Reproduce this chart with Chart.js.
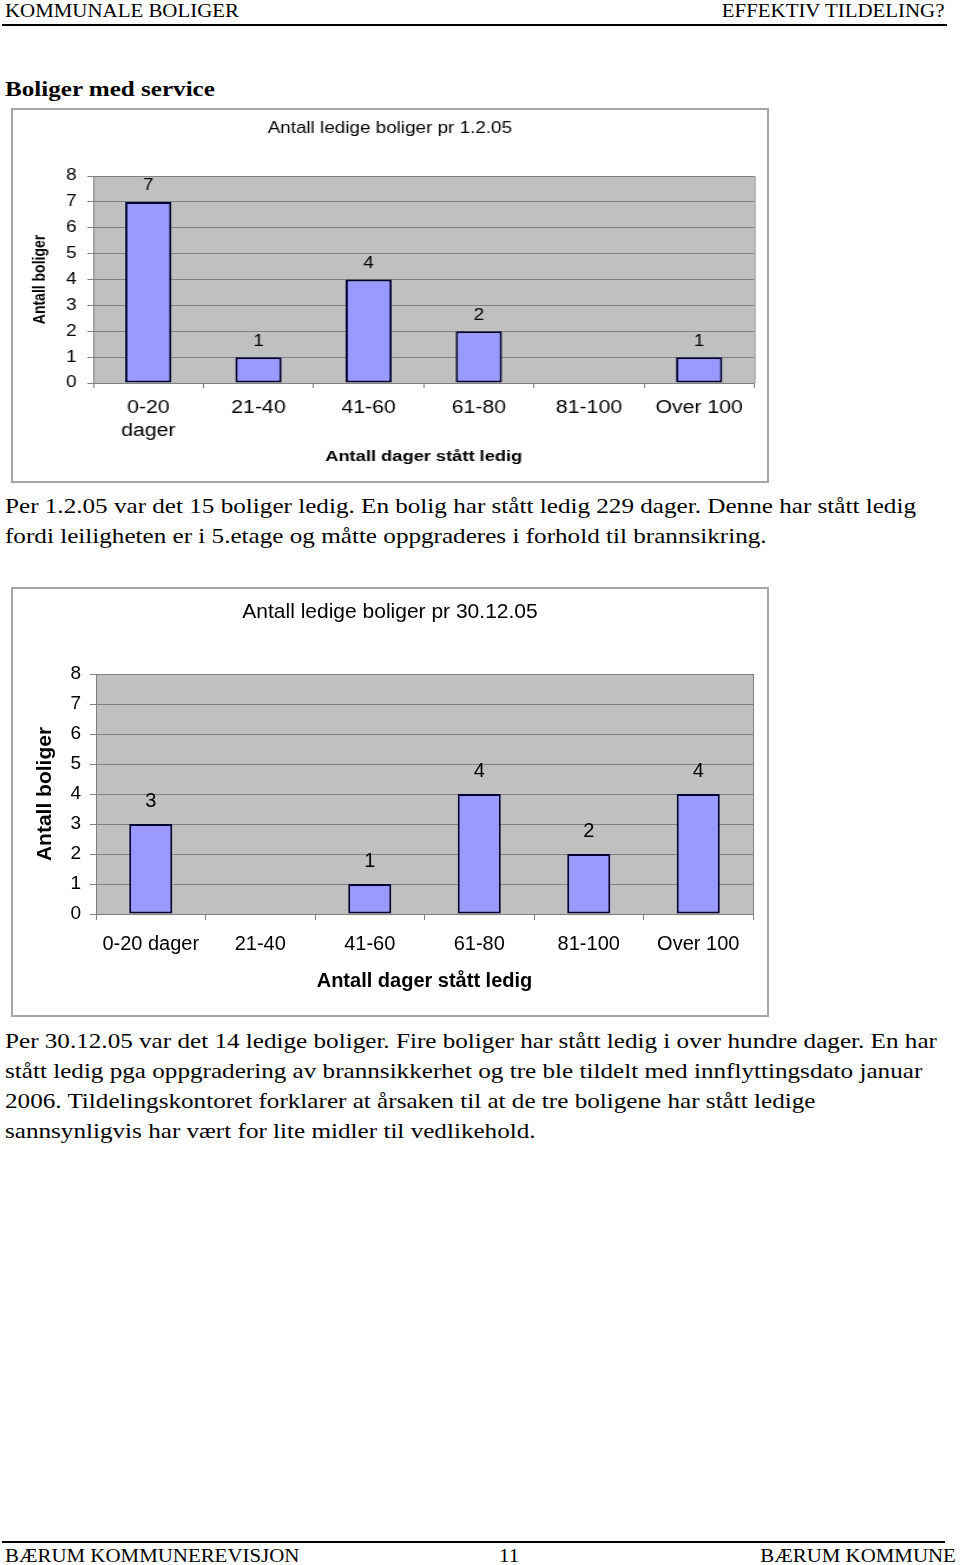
<!DOCTYPE html>
<html>
<head>
<meta charset="utf-8">
<script src="https://cdn.jsdelivr.net/npm/chart.js@4.4.0/dist/chart.umd.min.js"></script>
<style>
body{margin:0;background:#fff;width:960px;height:1565px;position:relative;overflow:hidden;font-family:"Liberation Serif","Times New Roman",serif;color:#000;}
.abs{position:absolute;white-space:nowrap;}
.hdr{font-size:19px;transform:scaleX(1.1);}
.left{transform-origin:0 0;}
.right{transform-origin:100% 0;}
.rule{position:absolute;height:2px;background:#000;}
.txt{font-size:21px;line-height:30px;transform:scaleX(1.197);transform-origin:0 0;}
.box{position:absolute;border:2px solid #a6a6a6;box-sizing:border-box;background:#fff;}
</style>
</head>
<body>

<div class="abs hdr left" style="left:5px;top:0px;">KOMMUNALE BOLIGER</div>
<div class="abs hdr right" style="right:16px;top:0px;">EFFEKTIV TILDELING?</div>
<div class="rule" style="left:2px;top:24px;width:945px;"></div>

<div class="abs left" style="left:5px;top:76px;font-size:22px;font-weight:bold;transform:scaleX(1.14);">Boliger med service</div>

<div class="box" style="left:11px;top:108px;width:758px;height:375px;"></div>
<div class="abs" style="left:13px;top:110px;width:639px;height:371px;transform:scaleX(1.1794);transform-origin:0 0;">
	<canvas id="chart1" width="639" height="371"></canvas>
</div>

<div class="abs txt" style="left:5px;top:491px;">Per 1.2.05 var det 15 boliger ledig. En bolig har stått ledig 229 dager. Denne har stått ledig<br>fordi leiligheten er i 5.etage og måtte oppgraderes i forhold til brannsikring.</div>

<div class="box" style="left:11px;top:587px;width:758px;height:430px;"></div>
<div class="abs" style="left:13px;top:589px;width:754px;height:426px;">
	<canvas id="chart2" width="754" height="426"></canvas>
</div>

<div class="abs txt" style="left:5px;top:1026px;">Per 30.12.05 var det 14 ledige boliger. Fire boliger har stått ledig i over hundre dager. En har<br>stått ledig pga oppgradering av brannsikkerhet og tre ble tildelt med innflyttingsdato januar<br>2006. Tildelingskontoret forklarer at årsaken til at de tre boligene har stått ledige<br>sannsynligvis har vært for lite midler til vedlikehold.</div>

<div class="rule" style="left:2px;top:1541px;width:943px;"></div>
<div class="abs hdr left" style="left:5px;top:1545px;">BÆRUM KOMMUNEREVISJON</div>
<div class="abs hdr left" style="left:499px;top:1545px;">11</div>
<div class="abs hdr right" style="right:4px;top:1545px;">BÆRUM KOMMUNE</div>

<script>
var categories1 = [["0-20", "dager"], "21-40", "41-60", "61-80", "81-100", "Over 100"];
var categories2 = ["0-20 dager", "21-40", "41-60", "61-80", "81-100", "Over 100"];
var values1 = [7, 1, 4, 2, 0, 1];
var values2 = [3, 0, 1, 4, 2, 4];
var yMin = 0;
var yMax = 8;
var yStep = 1;
var title1 = "Antall ledige boliger pr 1.2.05";
var title2 = "Antall ledige boliger pr 30.12.05";
var yTitle = "Antall boliger";
var xTitle = "Antall dager stått ledig";

Chart.defaults.font.family = "'Liberation Sans', Arial, sans-serif";
Chart.defaults.color = "#000";

var plotBackground = {
	id: "plotBackground",
	beforeDraw: function(chart){
		var a = chart.chartArea;
		var ctx = chart.ctx;
		ctx.save();
		ctx.fillStyle = "#c0c0c0";
		ctx.fillRect(a.left, a.top, a.right - a.left, a.bottom - a.top);
		ctx.restore();
	},
	afterDraw: function(chart){
		var a = chart.chartArea;
		var ctx = chart.ctx;
		ctx.save();
		ctx.strokeStyle = "#808080";
		ctx.lineWidth = 1;
		ctx.beginPath();
		ctx.moveTo(a.right + 0.5, a.top);
		ctx.lineTo(a.right + 0.5, a.bottom);
		ctx.stroke();
		ctx.restore();
	}
};

var valueLabels = {
	id: "valueLabels",
	afterDatasetsDraw: function(chart, args, opts){
		var ctx = chart.ctx;
		var meta = chart.getDatasetMeta(0);
		var data = chart.data.datasets[0].data;
		ctx.save();
		ctx.font = opts.size + "px 'Liberation Sans', Arial, sans-serif";
		ctx.fillStyle = "#000";
		ctx.textAlign = "center";
		ctx.textBaseline = "middle";
		for (var i = 0; i < data.length; i++) {
			if (data[i] === 0) continue;
			var bar = meta.data[i];
			ctx.fillText(String(data[i]), bar.x, bar.y - opts.offset);
		}
		ctx.restore();
	}
};

function makeChart(id, labels, values, s){
	var ctx = document.getElementById(id).getContext("2d");
	return new Chart(ctx, {
		type: "bar",
		data: {
			labels: labels,
			datasets: [{
				data: values,
				backgroundColor: "#9999ff",
				borderColor: "#000033",
				borderWidth: function(c){ return c.raw === 0 ? 0 : 2; },
				borderSkipped: false,
				categoryPercentage: 1,
				barPercentage: s.barPct
			}]
		},
		options: {
			responsive: false,
			animation: false,
			devicePixelRatio: 1,
			layout: {padding: {left: 0, right: 0, top: 0, bottom: s.padBottom}},
			plugins: {
				legend: {display: false},
				tooltip: {enabled: false},
				title: {
					display: true,
					text: s.title,
					font: {size: s.titleSize, weight: "normal"},
					color: "#000",
					padding: {top: s.titleTop, bottom: s.titleBottom}
				},
				valueLabels: {size: s.labelSize, offset: s.labelOffset}
			},
			scales: {
				x: {
					grid: {drawOnChartArea: false, drawTicks: true, tickLength: s.tick, color: "#808080"},
					border: {display: true, color: "#808080", width: 1},
					ticks: {autoSkip: false, maxRotation: 0, padding: s.xPad, font: {size: s.xSize, lineHeight: s.xLine}, color: "#000"},
					title: {display: true, text: xTitle, font: {size: s.xTitleSize, weight: "bold"}, color: "#000", padding: {top: 0, bottom: 4}},
					afterFit: function(scale){ scale.height = s.xHeight; }
				},
				y: {
					min: yMin,
					max: yMax,
					grid: {color: "#808080", tickLength: s.tick, drawTicks: true},
					border: {display: true, color: "#808080", width: 1},
					ticks: {stepSize: yStep, padding: s.yPad, font: {size: s.ySize}, color: "#000"},
					title: {display: true, text: yTitle, font: {size: s.yTitleSize, weight: "bold"}, color: "#000", padding: {top: s.yTitleTop, bottom: 0}},
					afterFit: function(scale){ scale.width = s.yWidth; }
				},
				// empty strip on the right so the title stays centred on the whole box
				yRight: {
					position: "right",
					display: true,
					grid: {display: false},
					border: {display: false},
					ticks: {display: false},
					afterFit: function(scale){ scale.width = s.padRight; }
				}
			}
		},
		plugins: [plotBackground, valueLabels]
	});
}

makeChart("chart1", categories1, values1, {
	barPct: 0.42, padRight: 10.5, padBottom: 11,
	title: title1, titleSize: 16, titleTop: 9, titleBottom: 37.8,
	labelSize: 16, labelOffset: 16,
	tick: 5, xPad: 9, xSize: 18, xLine: 1.25, xTitleSize: 15.5, xHeight: 87,
	yPad: 9, ySize: 16, yTitleSize: 14, yTitleTop: 15, yWidth: 68
});

makeChart("chart2", categories2, values2, {
	barPct: 0.393, padRight: 14, padBottom: 18,
	title: title2, titleSize: 21, titleTop: 10.4, titleBottom: 49.4,
	labelSize: 20, labelOffset: 23,
	tick: 6, xPad: 12, xSize: 20, xLine: 1.2, xTitleSize: 20, xHeight: 83,
	yPad: 9, ySize: 19, yTitleSize: 21, yTitleTop: 20, yWidth: 83
});
</script>
</body>
</html>
